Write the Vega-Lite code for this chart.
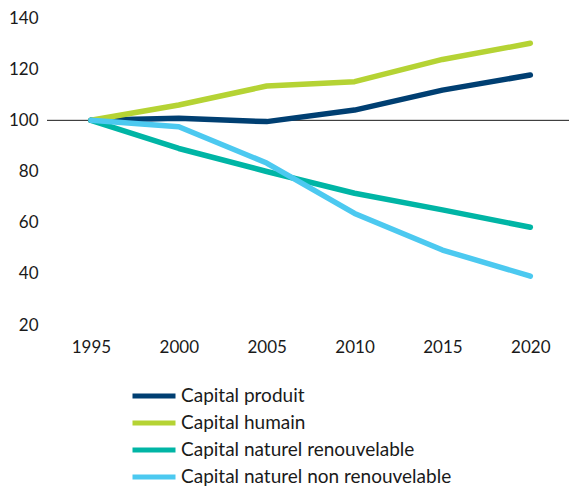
{
  "$schema": "https://vega.github.io/schema/vega-lite/v6.json",
  "autosize": {"type": "none"},
  "padding": {"left": 47, "top": 18, "right": 0, "bottom": 161},
  "width": 522,
  "height": 307,
  "config": {
    "view": {"stroke": null},
    "font": "Lato",
    "axis": {"labelFont": "Lato", "labelFontSize": 17, "labelColor": "#1a1a1a"},
    "legend": {"labelFont": "Lato", "labelFontSize": 19, "labelColor": "#1a1a1a", "labelLimit": 400}
  },
  "data": {
    "values": [
      {"annee": 1995, "serie": "Capital produit", "valeur": 100},
      {"annee": 2000, "serie": "Capital produit", "valeur": 100.8},
      {"annee": 2005, "serie": "Capital produit", "valeur": 99.5},
      {"annee": 2010, "serie": "Capital produit", "valeur": 104},
      {"annee": 2015, "serie": "Capital produit", "valeur": 111.8},
      {"annee": 2020, "serie": "Capital produit", "valeur": 117.7},
      {"annee": 1995, "serie": "Capital humain", "valeur": 100},
      {"annee": 2000, "serie": "Capital humain", "valeur": 106},
      {"annee": 2005, "serie": "Capital humain", "valeur": 113.4},
      {"annee": 2010, "serie": "Capital humain", "valeur": 115.1},
      {"annee": 2015, "serie": "Capital humain", "valeur": 123.8},
      {"annee": 2020, "serie": "Capital humain", "valeur": 130.1},
      {"annee": 1995, "serie": "Capital naturel renouvelable", "valeur": 100},
      {"annee": 2000, "serie": "Capital naturel renouvelable", "valeur": 89},
      {"annee": 2005, "serie": "Capital naturel renouvelable", "valeur": 80},
      {"annee": 2010, "serie": "Capital naturel renouvelable", "valeur": 71.5},
      {"annee": 2015, "serie": "Capital naturel renouvelable", "valeur": 65},
      {"annee": 2020, "serie": "Capital naturel renouvelable", "valeur": 58.2},
      {"annee": 1995, "serie": "Capital naturel non renouvelable", "valeur": 100},
      {"annee": 2000, "serie": "Capital naturel non renouvelable", "valeur": 97.5},
      {"annee": 2005, "serie": "Capital naturel non renouvelable", "valeur": 83.3},
      {"annee": 2010, "serie": "Capital naturel non renouvelable", "valeur": 63.6},
      {"annee": 2015, "serie": "Capital naturel non renouvelable", "valeur": 49.3},
      {"annee": 2020, "serie": "Capital naturel non renouvelable", "valeur": 39.1}
    ]
  },
  "layer": [
    {
      "data": {"values": [{"ref": 100}]},
      "mark": {"type": "rule", "color": "#1a1a1a", "strokeWidth": 1},
      "encoding": {"y": {"field": "ref", "type": "quantitative"}}
    },
    {
      "mark": {"type": "line", "strokeWidth": 5.5, "strokeCap": "round", "strokeJoin": "round"},
      "encoding": {
        "x": {
          "field": "annee", "type": "quantitative",
          "scale": {"domain": [1992.5, 2022.2], "nice": false, "zero": false},
          "axis": {"title": null, "values": [1995, 2000, 2005, 2010, 2015, 2020], "format": "d", "domain": false, "ticks": false, "grid": false, "labelPadding": 14}
        },
        "y": {
          "field": "valeur", "type": "quantitative",
          "scale": {"domain": [20, 140], "nice": false, "zero": false},
          "axis": {"title": null, "values": [20, 40, 60, 80, 100, 120, 140], "domain": false, "ticks": false, "grid": false, "labelPadding": 9}
        },
        "color": {
          "field": "serie", "type": "nominal",
          "scale": {
            "domain": ["Capital produit", "Capital humain", "Capital naturel renouvelable", "Capital naturel non renouvelable"],
            "range": ["#003f72", "#b5d334", "#00b5a5", "#4cc9f0"]
          },
          "legend": {
            "title": null,
            "orient": "none",
            "legendX": 83,
            "legendY": 368,
            "direction": "vertical",
            "symbolType": "stroke",
            "symbolSize": 1849,
            "symbolStrokeWidth": 5,
            "clipHeight": 20,
            "rowPadding": 7,
            "labelOffset": 3
          }
        }
      }
    }
  ]
}
